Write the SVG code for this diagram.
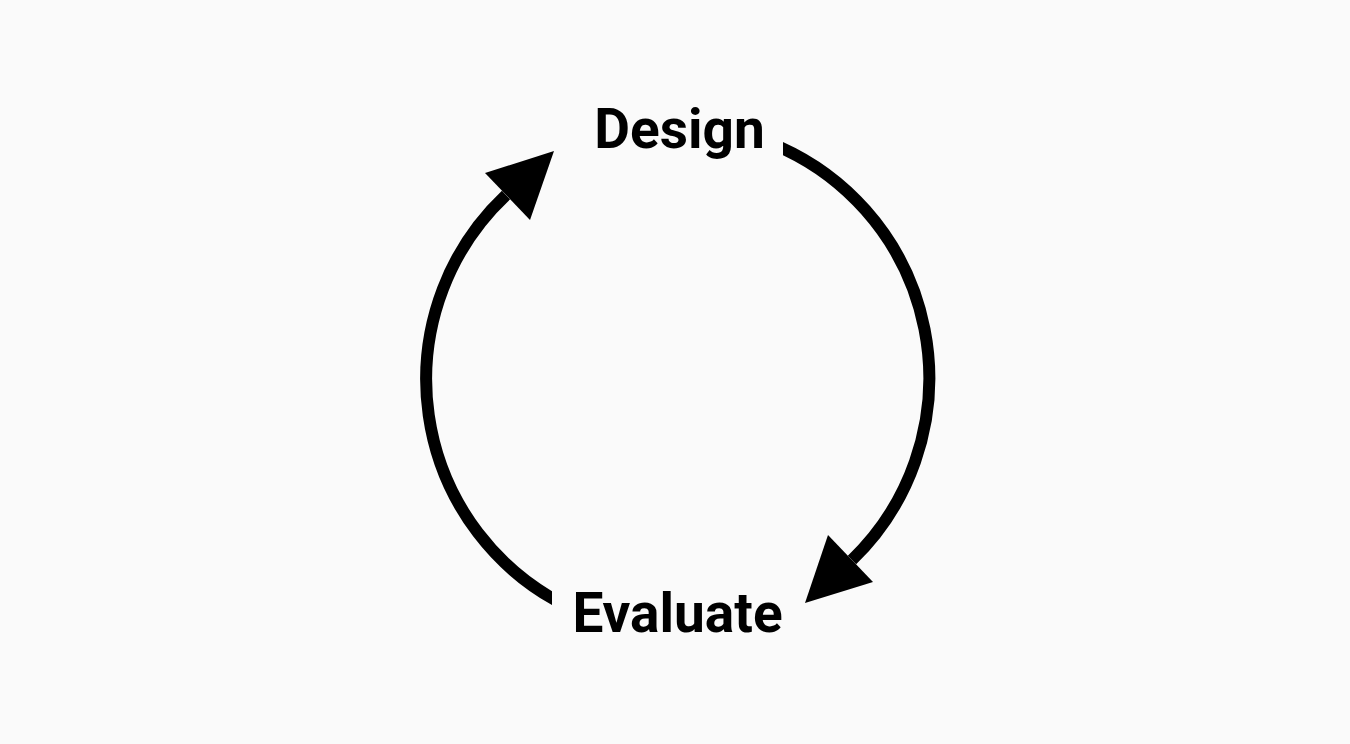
<svg xmlns="http://www.w3.org/2000/svg" width="1350" height="744" viewBox="0 0 1350 744">
<style>
.lbl{font-family:Roboto,"Liberation Sans",sans-serif;font-weight:bold;font-size:55px;fill:#000;text-anchor:middle}
.arc{fill:none;stroke:#000;stroke-width:12}
.head{fill:#000}
</style>
<defs>
<clipPath id="cr"><rect x="783" y="0" width="567" height="744"/></clipPath>
<clipPath id="cl"><rect x="0" y="0" width="552" height="744"/></clipPath>
</defs>
<rect width="1350" height="744" fill="#fafafa"/>
<g id="connectors">
<path class="arc" clip-path="url(#cr)" d="M 770 143 A 253 253 0 0 1 852 560"/>
<polygon class="head" points="805,603 828,535 873,582"/>
<path class="arc" clip-path="url(#cl)" d="M 565 605.2 A 253 253 0 0 1 506 195"/>
<polygon class="head" points="554,151 485,173 530,220"/>
</g>
<g id="design"><text class="lbl" x="679.5" y="148">Design</text></g>
<g id="evaluate"><text class="lbl" x="677.5" y="632">Evaluate</text></g>
</svg>
